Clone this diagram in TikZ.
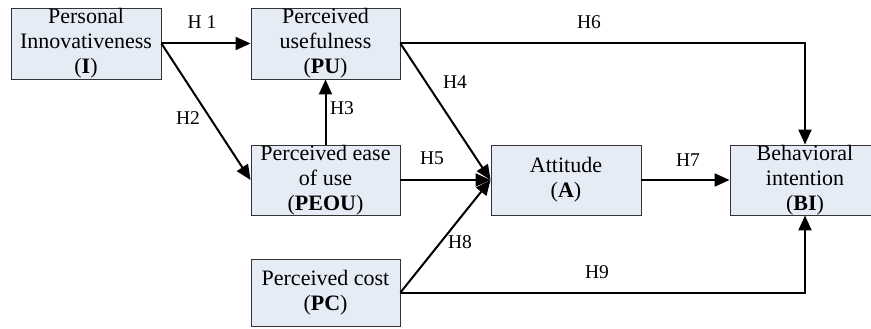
\documentclass[tikz,border=0pt]{standalone}
\usepackage{fontspec}
\setmainfont{Liberation Serif}
\usetikzlibrary{arrows.meta}
\definecolor{boxfill}{RGB}{230,236,246}
\begin{document}
\begin{tikzpicture}[x=1pt,y=-1pt,
  box/.style={draw=black!80,line width=0.9pt,fill=boxfill,align=center,inner sep=0pt,
    font=\fontsize{22}{25}\selectfont},
  conn/.style={line width=2pt,-{Triangle[length=15pt,width=13pt]}},
  lab/.style={font=\fontsize{19.5}{20}\selectfont,inner sep=0pt}]
\useasboundingbox (0,0) rectangle (871,329);
\clip (0,0) rectangle (871,329);
\node[box,minimum width=150pt,minimum height=71pt] (I) at (86,43.5) {Personal\\Innovativeness\\(\textbf{I})};
\node[box,minimum width=149pt,minimum height=71pt] (PU) at (325.5,43.5) {Perceived\\usefulness\\(\textbf{PU})};
\node[box,minimum width=149pt,minimum height=70pt] (PEOU) at (325.5,180) {Perceived ease\\of use\\(\textbf{PEOU})};
\node[box,minimum width=150pt,minimum height=70pt] (A) at (566,180) {Attitude\\(\textbf{A})};
\node[box,minimum width=149pt,minimum height=67pt] (PC) at (325.5,292.5) {Perceived cost\\(\textbf{PC})};
\node[box,minimum width=150pt,minimum height=70pt] (BI) at (805,180) {Behavioral\\intention\\(\textbf{BI})};
\coordinate (c6) at (805,43.5);
\coordinate (c9) at (805,292.5);
\draw[conn] (I.east) -- (PU.west);
\draw[conn] (I.east) -- (PEOU.west);
\draw[conn] (PEOU.north) -- (PU.south);
\draw[conn] (PU.east) -- (A.west);
\draw[conn] (PEOU.east) -- (A.west);
\draw[conn] (PU.east) -- (c6) -- (BI.north);
\draw[conn] (A.east) -- (BI.west);
\draw[conn] (PC.east) -- (A.west);
\draw[conn] (PC.east) -- (c9) -- (BI.south);
\node[lab] (h1) at (202,22) {H 1};
\node[lab] (h2) at (188,118) {H2};
\node[lab] (h3) at (342,108) {H3};
\node[lab] (h4) at (455,82) {H4};
\node[lab] (h5) at (432,158) {H5};
\node[lab] (h6) at (589,22) {H6};
\node[lab] (h7) at (688,160) {H7};
\node[lab] (h8) at (460,242) {H8};
\node[lab] (h9) at (597,272) {H9};
\end{tikzpicture}
\end{document}
